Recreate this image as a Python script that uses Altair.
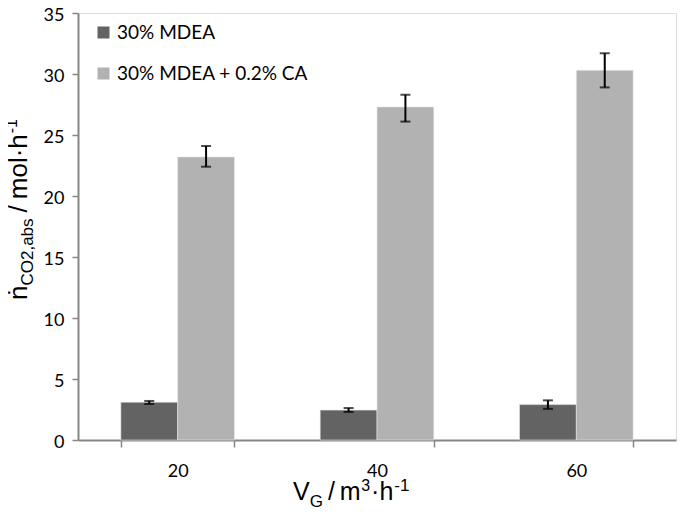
import altair as alt
import pandas as pd

# ---------------- data ----------------
categories = ["20", "40", "60"]
series = ["30% MDEA", "30% MDEA + 0.2% CA"]
colors = ["#636363", "#b2b2b2"]

mdea = [3.1, 2.45, 2.9]
mdea_lo = [2.95, 2.3, 2.55]
mdea_hi = [3.2, 2.62, 3.25]

ca = [23.2, 27.3, 30.3]
ca_lo = [22.4, 26.1, 28.9]
ca_hi = [24.1, 28.3, 31.7]

y_ticks = [0, 5, 10, 15, 20, 25, 30, 35]

rows = []
for i, c in enumerate(categories):
    rows.append({"cat": c, "series": series[0], "v": mdea[i], "lo": mdea_lo[i], "hi": mdea_hi[i]})
    rows.append({"cat": c, "series": series[1], "v": ca[i], "lo": ca_lo[i], "hi": ca_hi[i]})
df = pd.DataFrame(rows)

W, H = 598, 427
AX = "#868686"
TICK_FONT = "Lato"
TITLE_FONT = "Liberation Sans"

x_enc = alt.X(
    "cat:N", sort=categories,
    scale=alt.Scale(paddingInner=0.43, paddingOuter=0.215),
    axis=alt.Axis(title=None, labelAngle=0, tickBand="extent", tickSize=7,
                  tickColor=AX, domainColor=AX, domainWidth=2, tickWidth=1.5,
                  labelFont=TICK_FONT, labelFontSize=18, labelColor="#000000",
                  labelPadding=15, grid=False),
)
xo_enc = alt.XOffset("series:N", sort=series, scale=alt.Scale(paddingInner=0, paddingOuter=0))
y_scale = alt.Scale(domain=[0, 35], nice=False, zero=True)

bars = alt.Chart(df).mark_bar(stroke="#e6e6e6", strokeWidth=0.6).encode(
    x=x_enc,
    xOffset=xo_enc,
    y=alt.Y("v:Q", scale=y_scale,
            axis=alt.Axis(title=None, values=y_ticks, grid=False, tickSize=6,
                          tickColor=AX, domainColor=AX, domainWidth=2, tickWidth=1.5,
                          labelFont=TICK_FONT, labelFontSize=18, labelColor="#000000",
                          labelPadding=8, labelOffset=2)),
    color=alt.Color("series:N", sort=series,
                    scale=alt.Scale(domain=series, range=colors),
                    legend=alt.Legend(title=None, orient="none", legendX=16, legendY=10,
                                      symbolType="square", symbolSize=144, symbolStrokeWidth=0,
                                      labelFont=TICK_FONT, labelFontSize=19, labelColor="#000000",
                                      labelOffset=4, rowPadding=21, padding=0, labelLimit=0)),
)

err = alt.Chart(df).mark_rule(color="#000000", strokeWidth=2).encode(
    x=alt.X("cat:N", sort=categories), xOffset=alt.XOffset("series:N", sort=series),
    y=alt.Y("lo:Q", scale=y_scale), y2="hi:Q",
)
cap_lo = alt.Chart(df).mark_tick(color="#000000", size=10, thickness=2).encode(
    x=alt.X("cat:N", sort=categories), xOffset=alt.XOffset("series:N", sort=series),
    y=alt.Y("lo:Q", scale=y_scale),
)
cap_hi = alt.Chart(df).mark_tick(color="#000000", size=10, thickness=2).encode(
    x=alt.X("cat:N", sort=categories), xOffset=alt.XOffset("series:N", sort=series),
    y=alt.Y("hi:Q", scale=y_scale),
)

# ---------------- titles with sub/superscripts ----------------
WID = {"V": .667, "G": .778, "/": .278, "m": .833, "3": .556, "·": .333,
       "h": .556, "-": .333, "1": .556, "ṅ": .556, "C": .722, "O": .778, "2": .556,
       ",": .278, "a": .556, "b": .556, "s": .5, "o": .556, "l": .222}


def tw(s, size):
    return sum(WID.get(ch, .556) for ch in s) * size


def title_pieces(pieces, start, base, rotated):
    """pieces: (text, font size, baseline shift, gap before)"""
    layers = []
    pos = start
    for text, size, shift, gap in pieces:
        if rotated:
            pos -= gap
            enc = dict(x=alt.value(base + shift), y=alt.value(pos))
            mk = alt.Chart(pd.DataFrame({"t": [text]})).mark_text(
                text=text, font=TITLE_FONT, fontSize=size, angle=270,
                align="left", baseline="alphabetic", color="#000000")
            pos -= tw(text, size)
        else:
            pos += gap
            enc = dict(x=alt.value(pos), y=alt.value(base + shift))
            mk = alt.Chart(pd.DataFrame({"t": [text]})).mark_text(
                text=text, font=TITLE_FONT, fontSize=size,
                align="left", baseline="alphabetic", color="#000000")
            pos += tw(text, size)
        layers.append(mk.encode(**enc))
    return layers


# x title: V_G / m^3·h^-1   (coordinates relative to plot origin)
x_title = title_pieces(
    [("V", 25, 0, 0), ("G", 17, 7, 0), ("/", 25, 0, 5), ("m", 25, 0, 5),
     ("3", 16, -9, 0.5), ("·", 25, 0, 1), ("h", 25, 0, 0), ("-1", 17, -9, 1)],
    start=293 - 78, base=500 - 13, rotated=False)

# y title: ṅ_CO2,abs / mol·h^-1
y_title = title_pieces(
    [("ṅ", 26, 0, 0), ("CO2,abs", 17, 6, 0), ("/", 26, 0, 6), ("mol·h", 26, 0, 6),
     ("-1", 16, -10, 1)],
    start=300 - 13, base=27 - 78, rotated=True)

chart = alt.layer(bars, err, cap_lo, cap_hi, *x_title, *y_title).properties(
    width=W, height=H,
    autosize=alt.AutoSizeParams(type="none"),
    padding={"left": 70, "top": 5, "right": 1, "bottom": 78},
).configure_view(stroke="#000000", strokeWidth=1.5).configure(background="#ffffff")

chart.save("out.html", embed_options={"renderer": "svg", "actions": False})
